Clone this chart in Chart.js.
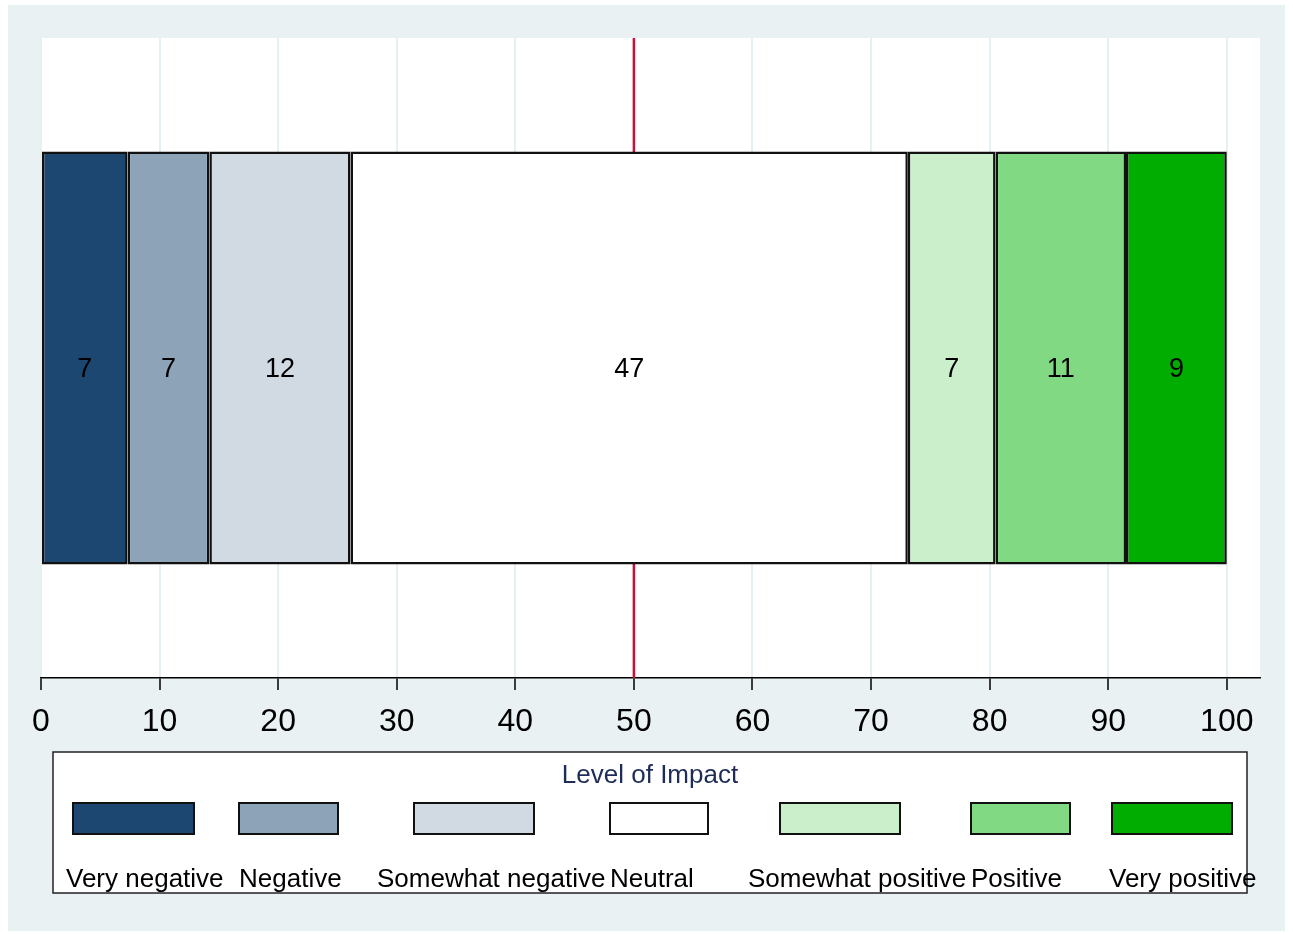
<!DOCTYPE html>
<html>
<head>
<meta charset="utf-8">
<script src="https://cdn.jsdelivr.net/npm/chart.js@4/dist/chart.umd.min.js"></script>
<style>
  html, body { margin: 0; padding: 0; background: #fff; }
  canvas { display: block; }
</style>
</head>
<body>
<canvas id="chart" width="1293" height="934"></canvas>
<script>
// data (shares in percent, labels are rounded)
const categories = ['Very negative', 'Negative', 'Somewhat negative', 'Neutral',
                    'Somewhat positive', 'Positive', 'Very positive'];
const shares = [7.3, 6.9, 11.9, 47.0, 7.4, 11.0, 8.5];
const colors = ['#1c4770', '#8da4b8', '#d1d9e2', '#ffffff', '#cbeecb', '#82d984', '#00ad00'];
const xTicks = [0, 10, 20, 30, 40, 50, 60, 70, 80, 90, 100];
const refValue = 50;
const legendTitle = 'Level of Impact';

const FONT = '"Liberation Sans", Arial, sans-serif';

// stata-ish backdrop: grey outer panel, white plot region
const backdrop = {
  id: 'backdrop',
  beforeDraw(chart) {
    const ctx = chart.ctx, a = chart.chartArea;
    ctx.save();
    ctx.fillStyle = '#ffffff';
    ctx.fillRect(0, 0, chart.width, chart.height);
    ctx.fillStyle = '#eaf1f3';
    ctx.fillRect(8, 5, 1277, 926);
    ctx.fillStyle = '#ffffff';
    ctx.fillRect(a.left, a.top, a.right - a.left, a.bottom - a.top);
    ctx.restore();
  }
};

// red reference line at 50, behind the bars
const refLine = {
  id: 'refLine',
  beforeDatasetsDraw(chart) {
    const ctx = chart.ctx, a = chart.chartArea;
    const x = chart.scales.x.getPixelForValue(refValue);
    ctx.save();
    ctx.strokeStyle = '#c8103c';
    ctx.lineWidth = 2.5;
    ctx.beginPath();
    ctx.moveTo(x, a.top);
    ctx.lineTo(x, a.bottom);
    ctx.stroke();
    ctx.restore();
  }
};

// rounded value in each segment (stata sets them a bit below the middle)
const barLabels = {
  id: 'barLabels',
  afterDatasetsDraw(chart) {
    const ctx = chart.ctx;
    ctx.save();
    ctx.font = '27px ' + FONT;
    ctx.fillStyle = '#000';
    ctx.textAlign = 'center';
    ctx.textBaseline = 'middle';
    chart.data.datasets.forEach((ds, i) => {
      chart.getDatasetMeta(i).data.forEach((bar, j) => {
        const c = bar.getCenterPoint();
        ctx.fillText(String(Math.round(ds.data[j])), c.x, c.y + 12);
      });
    });
    ctx.restore();
  }
};

// boxed legend underneath, one column per category
const boxLegend = {
  id: 'boxLegend',
  afterDraw(chart) {
    const ctx = chart.ctx;
    const keyX = [73, 239, 414, 610, 780, 971, 1112];
    const keyW = [121, 99, 120, 98, 120, 99, 120];
    const textX = [66, 239, 377, 610, 748, 971, 1109];
    ctx.save();
    ctx.fillStyle = '#fff';
    ctx.fillRect(53, 752, 1194, 141);
    ctx.strokeStyle = '#222';
    ctx.lineWidth = 1.5;
    ctx.strokeRect(53, 752, 1194, 141);

    ctx.font = '26px ' + FONT;
    ctx.fillStyle = '#1e2d57';
    ctx.textAlign = 'center';
    ctx.textBaseline = 'middle';
    ctx.fillText(legendTitle, 650, 776);

    chart.data.datasets.forEach((ds, i) => {
      ctx.fillStyle = ds.backgroundColor;
      ctx.fillRect(keyX[i], 803, keyW[i], 31);
      ctx.strokeStyle = '#111';
      ctx.lineWidth = 2;
      ctx.strokeRect(keyX[i], 803, keyW[i], 31);
      ctx.fillStyle = '#000';
      ctx.textAlign = 'left';
      ctx.textBaseline = 'alphabetic';
      ctx.font = '26px ' + FONT;
      ctx.fillText(ds.label, textX[i], 887);
    });
    ctx.restore();
  }
};

new Chart(document.getElementById('chart'), {
  type: 'bar',
  data: {
    labels: [''],
    datasets: categories.map((name, i) => ({
      label: name,
      data: [shares[i]],
      backgroundColor: colors[i],
      borderColor: '#111',
      borderWidth: 2.5,
      borderSkipped: false,
      categoryPercentage: 1,
      barPercentage: 0.645
    }))
  },
  options: {
    indexAxis: 'y',
    responsive: false,
    animation: false,
    layout: { padding: { left: 41, top: 38, right: 33, bottom: 186 } },
    plugins: {
      legend: { display: false },
      tooltip: { enabled: false },
      title: { display: false }
    },
    scales: {
      x: {
        type: 'linear',
        stacked: true,
        min: 0,
        max: 102.8,
        afterBuildTicks(scale) { scale.ticks = xTicks.map(v => ({ value: v })); },
        afterFit(scale) { scale.height = 70; },
        grid: {
          color: '#e6eff1',
          lineWidth: 2,
          tickColor: '#000',
          tickLength: 12,
          tickWidth: 1.5
        },
        border: { display: true, color: '#000', width: 1.5 },
        ticks: {
          color: '#000',
          padding: 13,
          maxRotation: 0,
          autoSkip: false,
          font: { family: FONT, size: 32 }
        }
      },
      y: {
        stacked: true,
        display: false
      }
    }
  },
  plugins: [backdrop, refLine, barLabels, boxLegend]
});
</script>
</body>
</html>
